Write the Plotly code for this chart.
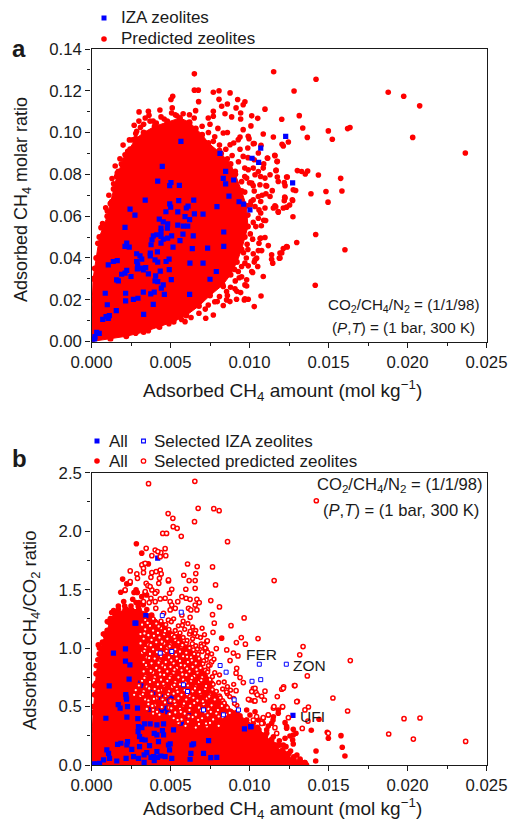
import plotly.graph_objects as go

W, H = 510, 821

# ---------- panel a: adsorbed CH4 amount (mol/kg), CH4 molar ratio ----------
a_pred_core = [(0,0),(0,.01),(.00005,.02),(.0001,.03),(.0003,.04),(.0005,.05),(.001,.06),(.0012,.066),(.0014,.073),(.0016,.079),
(.0019,.085),(.0023,.091),(.0028,.097),(.0033,.1),(.004,.103),(.0048,.105),(.0056,.107),(.0062,.105),(.0066,.102),(.007,.099),
(.0074,.095),(.0082,.09),(.0088,.085),(.0091,.08),(.0095,.072),(.0098,.065),(.0099,.055),(.0097,.05),(.0095,.044),(.0092,.038),
(.0088,.032),(.0083,.027),(.0075,.022),(.0068,.017),(.006,.0125),(.0052,.0095),(.0043,.007),(.0033,.0045),(.0022,.0025),(.0012,.0012),(0,0)]

a_pred_far = [(.01153,.1291),(.01421,.1255),(.01282,.1199),(.01878,.1193),(.01976,.1174),(.02077,.1128),(.01098,.1112),(.01014,.108),
(.01052,.1068),(.01204,.1064),(.01315,.1081),(.01009,.1032),(.01337,.1022),(.01499,.1008),(.01621,.1019),(.01636,.1024),(.01524,.0968),
(.02033,.0977),(.02366,.0902),(.01087,.0993),(.01151,.0979),(.01366,.0977),(.01246,.0955),(.01206,.0944),(.01214,.0936),(.0103,.0948),
(.01073,.0939),(.0116,.0891),(.01174,.0861),(.01115,.0877),(.01303,.0818),(.0133,.0814),(.01353,.0802),(.01368,.0816),(.01436,.0797),
(.01577,.0781),(.01484,.0718),(.01585,.072),(.01389,.0707),(.01497,.0667),(.01275,.0597),(.01419,.0512),(.01299,.0474),(.01604,.0439),
(.01273,.0675),(.01277,.0726),(.01292,.0723),(.01223,.0691),(.01239,.0787),(.0122,.0761),(.01225,.0746),(.01182,.0766),(.01168,.0819),
(.01144,.0722),(.01109,.0744),(.01254,.0653),(.01235,.0643),(.01214,.0639),(.01182,.0619),(.01151,.0639),(.01166,.0645),(.01102,.0579),
(.01075,.0554),(.01098,.0498),(.01067,.0493),(.01119,.0459),(.01239,.0452),(.01214,.0445),(.01416,.0269),(.01087,.0311),(.01073,.0218),
(.0103,.0167),(.0114,.0415),(.01147,.0375),(.01193,.04),(.01204,.0424),(.0102,.033),(.01052,.0359),(.01035,.0391)]

a_pred_top = [(.00651,.1281),(.00651,.1203),(.00676,.1203),(.00771,.1193),(.00807,.12),(.00877,.119),(.00514,.1174),(.00503,.1158),
(.00678,.1148),(.00807,.1159),(.00925,.1158),(.00971,.1147),(.0096,.1133),(.00824,.1126),(.0086,.1137),(.00915,.1118),(.00301,.1099),
(.0036,.1102),(.00433,.1108),(.00364,.1083),(.00511,.1118),(.00507,.1094),(.00771,.1102),(.00845,.109),(.00944,.1094),(.00659,.1105),
(.00739,.107),(.00771,.1078),(.00887,.1075),(.00944,.1065),(.00286,.1006),(.00212,.0894),(.00244,.0921),(.00163,.0806),(.00128,.067),
(.00771,.0958),(.00834,.0998),(.00877,.0942),(.00992,.0982),(.00929,.0966),(.0096,.1014),(.0094,.0979),(.00997,.0971),(.01024,.0947),
(.0096,.0886),(.00989,.0926),(.01056,.0902),(.01113,.0878),(.01161,.0889),(.01176,.0862),(.00992,.0822),(.01024,.083),(.01056,.0814),
(.01087,.083),(.01168,.0819),(.0113,.0798),(.01098,.0782),(.01176,.0787),(.01235,.0787),(.00982,.0782),(.01035,.0798),(.01066,.075),
(.01104,.0746),(.01024,.0746),(.01014,.0758),(.0113,.0694),(.01104,.0707),(.01225,.0687),(.0122,.0674),(.01271,.0678),(.01056,.0694),
(.01024,.0678),(.01071,.067),(.01035,.0646),(.01098,.0639),(.01071,.0615),(.01056,.059),(.01161,.065),(.01182,.0622),(.01024,.057),
(.00971,.0543),(.0096,.0526),(.01071,.0495),(.01235,.0455),(.01193,.0423),(.01189,.0399),(.0114,.0394),(.01077,.0435),(.01056,.0435),
(.01024,.042),(.01045,.0399),(.00992,.0362),(.00971,.0375),(.0095,.0359),(.00929,.0335),(.01014,.0335),(.00982,.0295),(.00982,.0266),
(.00908,.0252),(.00944,.0234),(.00971,.0204),(.00834,.0263),(.00855,.0239),(.00992,.0202),(.00918,.0202),(.00967,.0199),(.00855,.0199),
(.00876,.0191),(.00834,.0172),(.00796,.0191),(.00739,.0175),(.00771,.0127),(.00723,.0111),(.00592,.0095),(.00971,.0271),(.00935,.0305),
(.00905,.0345),(.00962,.0425),(.00985,.0465),(.01005,.0515),(.0099,.0605),(.01005,.0655),(.0097,.0715),(.0095,.0765),(.0091,.0815),
(.0086,.0875),(.0081,.0915),(.0074,.0935),(.0069,.0985),(.0062,.1045),(.0054,.108),(.0046,.1065),(.0039,.1055),(.0031,.1025),(.0026,.0965),
(.0021,.087),(.0017,.0815),(.0014,.0755),(.001,.0625),(.0007,.0565)]

a_pred_rim = [(.0028,.0995),(.0033,.104),(.0037,.1055),(.0041,.1045),(.0044,.1075),(.0048,.1055),(.0053,.1085),(.0058,.109),(.0062,.1085),(.0065,.107),
(.007,.103),(.0074,.1),(.0078,.098),(.0081,.094),(.0085,.092),(.0089,.089),(.0093,.086),(.0097,.083),(.0075,.104),(.008,.102),(.0086,.1),(.009,.095),
(.0094,.092),(.0099,.088),(.0103,.087),(.0107,.079),(.0109,.085),(.0097,.079),(.01,.076),(.0103,.072),(.0108,.07),(.0101,.067),(.0106,.063),(.0109,.058),
(.0104,.055),(.0102,.049),(.0106,.047),(.0099,.044),(.0103,.038),(.0098,.04),(.0095,.031),(.0091,.029),(.0088,.026),(.0092,.024),(.0086,.022),(.0081,.0215),
(.0078,.019),(.0072,.0155),(.0068,.0135),(.0063,.0115),(.0057,.0105),(.0049,.0085),(.0042,.0075),(.0036,.0052),(.0028,.004),(.0002,.035),(.0004,.047),
(.0006,.0545),(.0009,.064),(.0011,.07),(.0013,.078),(.0015,.084),(.0018,.0875),(.002,.094),(.0024,.0965),(.0027,.1035),(.003,.1055),(.0034,.107)]

a_iza = [(.00566,.0958),(.00813,.09),(.00448,.0838),(.00419,.0768),(.00503,.0761),(.00495,.0746),(.00556,.0747),(.00849,.0814),(.00834,.0781),
(.00849,.0754),(.009,.0773),(.0087,.0696),(.0034,.0677),(.00552,.0674),(.00647,.0677),(.00495,.0659),(.00501,.0643),(.006,.0639),(.00611,.0648),
(.00794,.0646),(.00934,.0669),(.00963,.0658),(.01003,.063),(.00244,.0634),(.01229,.0982),(.01071,.0926),(.01016,.0877),(.01058,.0857),(.01273,.0759),
(.00275,.0605),(.00471,.0621),(.00546,.062),(.00651,.0611),(.00706,.061),(.00592,.0598),(.00621,.0583),(.00429,.0586),(.00454,.0573),(.00482,.0563),
(.0048,.0543),(.0044,.0543),(.00546,.0557),(.00581,.0552),(.00609,.0552),(.00212,.0546),(.00837,.0524),(.00579,.0514),(.00644,.0506),(.0044,.0526),
(.00413,.0511),(.00391,.0506),(.00383,.0487),(.00377,.0463),(.0044,.0503),(.00482,.0495),(.00507,.0506),(.00454,.049),(.0044,.0471),(.0056,.0483),
(.00516,.0452),(.00223,.0471),(.00212,.0455),(.00239,.0452),(.00638,.0445),(.00735,.0447),(.00837,.0455),(.00417,.0429),(.00372,.0423),(.00372,.041),
(.00286,.042),(.00307,.041),(.00318,.0394),(.00286,.0383),(.00402,.0391),(.00419,.038),(.00491,.0394),(.00472,.0383),(.00623,.0375),(.00706,.0375),
(.00163,.0387),(.00138,.0383),(.00106,.0367),(.00292,.0367),(.0029,.0348),(.00318,.0351),(.00343,.0354),(.00328,.0343),(.0036,.0324),(.00406,.0314),
(.00435,.0337),(.00492,.0344),(.0079,.0335),(.00223,.034),(.00212,.0327),(.00191,.0322),(.0025,.0311),(.00159,.0295),(.0017,.029),(.00402,.029),
(.00419,.0287),(.00505,.0296),(.0075,.0298),(.00454,.0271),(.00442,.0255),(.00328,.0236),(.00397,.0236),(.00375,.0228),(.00461,.0226),(.00621,.0226),
(.00087,.0231),(.00216,.0231),(.00216,.0194),(.00265,.0202),(.00294,.0207),(.001,.0176),(.00391,.0178),(.00157,.0148),(.0033,.013),(.00113,.0124),
(.00092,.0119),(.00071,.0106),(.00106,.0111),(.00033,.0044),(.00049,.0039),(.00022,.0023),(.00005,.0012),(.0001,.0005),(.0002,.001)]

# ---------- panel b: adsorbed CH4 amount (mol/kg), CH4/CO2 ratio ----------
b_pred_core = [(0,0),(0,.15),(.00005,.3),(.0001,.45),(.0002,.6),(.0003,.78),(.0005,.95),(.0007,1.05),(.001,1.15),(.0012,1.25),(.0015,1.3),
(.0022,1.33),(.003,1.33),(.0038,1.28),(.0045,1.2),(.0055,1.1),(.0062,1.0),(.0068,.9),(.0072,.8),(.0076,.7),(.0078,.6),(.0085,.5),(.0092,.45),
(.0098,.38),(.0105,.32),(.011,.25),(.0116,.17),(.0122,.1),(.0128,.05),(.0135,.02),(.0136,0),(0,0)]

b_pred_all = [(.00284,1.892),(.00318,1.812),(.0036,1.72),(.00332,1.72),(.00197,1.59),(.00223,1.549),(.00244,1.555),(.00185,1.478),(.00212,1.492),
(.00282,1.498),(.00269,1.475),(.0029,1.475),(.00204,1.398),(.00261,1.418),(.00282,1.389),(.00339,1.47),(.00349,1.455),(.00318,1.44),(.0017,1.333),
(.00128,1.304),(.00149,1.284),(.00212,1.327),(.00254,1.327),(.00296,1.355),(.00328,1.37),(.00043,1.027),(.00075,1.121),(.001,1.227),(.0144,.391),
(.01492,.28),(.01499,.229),(.01579,.251),(.01587,.152),(.01604,.077),(.01421,.12),(.01419,.034),(.013,.086),(.01242,.077),(.01193,.066),(.01204,.114),
(.01214,.171),(.01231,.157),(.01391,.297),(.01277,.18),(.01273,.214),(.01277,.257),(.01294,.271),(.01256,.248),(.01225,.229),(.01189,.208),(.01277,.306),
(.01235,.328),(.01225,.362),(.01235,.314),(.01182,.442),(.01182,.471),(.01151,.413),(.01119,.428),(.01087,.4),(.0114,.357),(.01119,.334),(.01151,.242),
(.01109,.271),(.01161,.143),(.0113,.086),(.01087,.043),(.01077,.186),(.01045,.157),(.00824,1.085),(.0063,1.127),(.00729,1.055),(.01149,.385),(.01225,.086),
(.01087,.357),(.01056,.385),(.01024,.357),(.00982,.385),(.01109,.3),(.00982,.471),(.01003,.428),(.01035,.456),(.0132,.04),(.0128,.03),(.0126,.12),(.0122,.03),
(.0116,.04),(.0119,.17),(.0114,.2),(.0111,.13),(.0107,.26),(.0103,.3),(.0098,.34),(.0094,.42),(.0088,.46),(.0084,.52),(.008,.58),(.0004,.9),(.0003,.7),
(.0006,1.0),(.0009,1.1),(.0013,1.2),(.0018,1.29),(.0026,1.31),(.0034,1.29)]

b_pred_rim = [(.0001,.5),(.0002,.68),(.0003,.85),(.0005,1.0),(.0008,1.12),(.0011,1.22),(.0014,1.32),(.0017,1.36),(.0021,1.36),(.0025,1.36),(.003,1.39),(.0035,1.33),
(.0086,.38),(.009,.4),(.0095,.36),(.0101,.33),(.0106,.3),(.011,.26),(.0114,.22),(.0118,.17),(.0121,.13),(.0125,.1),(.0128,.07),(.0132,.05),(.0135,.02),(.0092,.33),(.0098,.26)]

b_iza = [(.00139,.957),(.00215,.994),(.00215,.889),(.00243,.857),(.00238,.734),(.00112,.677),(.00312,.7),(.00308,.683),(.00217,.603),(.00219,.58),(.00222,.563),
(.00169,.517),(.00181,.486),(.00228,.5),(.00291,.486),(.00224,.409),(.00293,.397),(.00091,.4),(.00388,.62),(.00441,.58),(.00504,.577),(.00492,.546),(.00371,.477),
(.00392,.486),(.00441,.466),(.0047,.486),(.00483,.457),(.00335,.351),(.00297,.329),(.00319,.32),(.00371,.351),(.00414,.343),(.00456,.351),(.00519,.3),(.00568,.357),
(.00614,.42),(.00449,.294),(.00295,.286),(.00304,.243),(.00319,.22),(.0034,.214),(.00397,.271),(.00414,.257),(.00456,.257),(.00424,.2),(.00165,.177),(.00186,.186),
(.00228,.2),(.00224,.171),(.00255,.134),(.00304,.157),(.00367,.166),(.00097,.129),(.00108,.1),(.00114,.057),(.00076,.043),(.0016,.034),(.00219,.057),(.00266,.071),
(.00297,.057),(.00333,.086),(.0035,.106),(.00333,.023),(.00414,.114),(.00392,.071),(.00376,.066),(.00397,.037),(.00418,.066),(.00439,.077),(.00466,.071),(.00494,.129),
(.00498,.18),(.00487,.171),(.00508,.057),(.00646,.18),(.00629,.1),(.00624,.049),(.00741,.209),(.00709,.1),(.00755,.063),(.00793,.066),(.00635,.171),(.00968,.309),
(.01008,.329),(.00013,.009),(.00034,.009),(.00051,.014),(.0001,.002),(.00281,1.214),(.00419,1.77),(.00344,1.278),(.00275,1.213),(.01275,.425),(.01009,.328)]

b_sel_iza = [(.01062,.862),(.01233,.862),(.01016,.716),(.01071,.73),(.00814,.851),(.00852,.794),(.00903,.557),(.0093,.471),(.00709,.471),(.00835,.429),
(.00448,1.278),(.00568,1.307),(.00435,.957),(.00508,.971),(.00582,.686),(.00608,.629)]

b_sel_sparse = [(.00361,2.406),(.00654,2.426),(.00485,2.15),(.00515,2.11),(.00675,2.195),(.00774,2.192),(.00808,2.175),(.00652,2.081),(.00517,2.038),(.00542,2.024),
(.00451,1.981),(.00475,1.981),(.00568,1.956),(.00861,1.91),(.00346,1.853),(.00403,1.839),(.00466,1.85),(.00439,1.816),(.0042,1.825),(.00382,1.79),(.0047,1.79),(.00435,1.782),
(.00608,1.719),(.00669,1.697),(.00766,1.694),(.0066,1.637),(.00584,1.623),(.00245,1.66),(.00319,1.711),(.0034,1.725),(.00329,1.682),(.00287,1.634),(.00329,1.645),(.00291,1.597),
(.00382,1.645),(.00409,1.654),(.00435,1.668),(.00441,1.634),(.0043,1.597),(.00376,1.605),(.00426,1.554),(.00346,1.554),(.00357,1.534),(.00487,1.574),(.00487,1.583),(.00618,1.577),
(.00656,1.577),(.00656,1.511),(.00785,1.54),(.01156,1.577),(.00245,1.568),(.00213,1.497),(.00382,1.497),(.00508,1.503),(.00494,1.469),(.00597,1.503),(.0034,1.483),(.00371,1.526),
(.00414,1.483),(.00403,1.469),(.00466,1.426),(.00435,1.42),(.00376,1.426),(.00329,1.397),(.00365,1.389),(.00403,1.397),(.00498,1.397),(.00508,1.368),(.00546,1.397),(.00572,1.44),
(.00599,1.426),(.00624,1.417),(.00667,1.417),(.00682,1.389),(.00656,1.368),(.00755,1.406),(.0081,1.352),(.00766,1.286),(.00966,1.258),(.0053,1.34),(.00498,1.326),(.00614,1.34),
(.00629,1.326),(.00667,1.326),(.00572,1.283),(.00624,1.263),(.00487,1.24),(.00407,1.34),(.00456,1.298),(.00777,1.213),(.00769,1.135),(.00883,1.192),(.01054,1.081),(.00948,1.09),
(.00917,1.047),(.00974,1.033),(.0079,.996),(.00733,1.062),(.00695,1.033),(.00638,1.037),(.00725,.989),(.00898,.957),(.00927,.933),(.01339,1.013),(.01318,.942),(.01638,.893),
(.01366,.762),(.01284,.679),(.01216,.668),(.01204,.648),(.01098,.631),(.01041,.619),(.01024,.654),(.01014,.628),(.01077,.588),(.01094,.556),(.0103,.548),(.01003,.556),(.01176,.585),
(.01303,.545),(.01528,.573),(.01373,.496),(.01351,.471),(.01208,.496),(.01151,.487),(.01621,.462),(.01246,.405),(.0137,.376),(.01334,.313),(.01161,.319),(.01172,.27),(.01499,.271),
(.01077,.356),(.01024,.385),(.01087,.405),(.01119,.428),(.01045,.413),(.01978,.396),(.02079,.402),(.01881,.265),(.02037,.222),(.02368,.202),(.01423,2.26),(.00877,.893),(.00919,.827),
(.00915,.785),(.0094,.748),(.00961,.705),(.01035,.656),(.01049,.6),(.00993,.562),(.01035,.548),(.00915,.636),(.01288,.679),(.01214,.656),(.01299,.542),(.01155,.499),(.0121,.499),
(.00856,.984),(.00761,.884),(.00725,.899),(.0075,.856),(.00735,.814)]

b_sel_dense = [(.0034,1.24),(.0039,1.25),(.0044,1.23),(.0052,1.25),(.0058,1.23),(.0032,1.2),(.0037,1.19),(.0041,1.21),(.0047,1.2),(.0055,1.19),(.0061,1.21),(.0064,1.18),
(.0034,1.16),(.0039,1.15),(.0044,1.17),(.0049,1.16),(.0053,1.15),(.0059,1.16),(.0066,1.15),(.007,1.17),(.0031,1.12),(.0036,1.11),(.0042,1.13),(.0046,1.12),(.0051,1.11),(.0056,1.13),(.0062,1.12),(.0067,1.1),
(.0033,1.08),(.0038,1.07),(.0043,1.09),(.0048,1.08),(.0053,1.07),(.0058,1.09),(.0064,1.08),(.0069,1.09),(.0031,1.04),(.0036,1.03),(.0041,1.05),(.0046,1.04),(.005,1.03),(.0055,1.05),(.006,1.04),(.0066,1.02),(.0071,1.03),
(.0034,1.0),(.0039,.99),(.0044,1.01),(.0048,1.0),(.0053,.99),(.0057,1.01),(.0062,1.0),(.0067,.99),(.0072,1.0),(.0032,.96),(.0037,.95),(.0042,.97),(.0046,.96),(.0051,.95),(.0056,.97),(.006,.96),(.0065,.95),(.007,.97),(.0076,.95),
(.0035,.92),(.004,.91),(.0044,.93),(.0049,.92),(.0054,.91),(.0058,.93),(.0063,.92),(.0068,.91),(.0073,.93),(.0033,.88),(.0038,.87),(.0043,.89),(.0047,.88),(.0052,.87),(.0056,.89),(.0061,.88),(.0066,.87),(.0071,.89),
(.0035,.84),(.0041,.83),(.0045,.85),(.005,.84),(.0054,.83),(.0059,.85),(.0064,.84),(.0069,.83),(.0074,.85),(.0033,.8),(.0039,.79),(.0043,.81),(.0048,.8),(.0052,.79),(.0057,.81),(.0062,.8),(.0067,.79),(.0072,.81),(.0078,.79),
(.0034,.76),(.004,.75),(.0046,.77),(.005,.76),(.0055,.75),(.006,.77),(.0065,.76),(.007,.75),(.0081,.77),(.0032,.72),(.0037,.71),(.0044,.73),(.0048,.72),(.0053,.71),(.0058,.73),(.0063,.72),(.0068,.71),(.0075,.73),(.0084,.71),
(.003,.68),(.0035,.67),(.0042,.69),(.0046,.68),(.0051,.67),(.0056,.69),(.0061,.68),(.0066,.67),(.0077,.69),(.0086,.67),(.009,.69),(.0028,.64),(.0033,.63),(.004,.65),(.0044,.64),(.0049,.63),(.0054,.65),(.0059,.64),(.0064,.63),(.0072,.65),(.0079,.63),(.0083,.65),(.0088,.64),
(.0027,.6),(.0031,.59),(.0038,.61),(.0043,.6),(.0047,.59),(.0052,.61),(.0057,.6),(.0062,.59),(.0069,.61),(.0075,.6),(.0081,.59),(.0086,.61),(.0034,.56),(.0036,.55),(.0041,.57),(.0045,.56),(.005,.55),(.0055,.57),(.006,.56),(.0067,.55),(.0073,.57),(.0078,.56),(.0083,.55),(.009,.57),
(.0036,.52),(.004,.51),(.0046,.53),(.0053,.52),(.0058,.51),(.0065,.53),(.0071,.52),(.0076,.51),(.0084,.53),(.0092,.51),(.0035,.48),(.0039,.47),(.0049,.49),(.0056,.48),(.0062,.47),(.0068,.49),(.0074,.48),(.008,.47),(.0086,.49),
(.0039,.44),(.0043,.43),(.0053,.45),(.0059,.44),(.0066,.43),(.0072,.45),(.0079,.44),(.0085,.43),(.0052,.4),(.0057,.39),(.0064,.41),(.007,.4),(.0077,.39),(.0083,.41),(.0055,.36),(.0061,.37),(.0068,.35),(.0075,.36),(.0066,.32),(.0073,.33)]

b_sel_between = [(.00355,1.215),(.00425,1.185),(.00505,1.225),(.00575,1.195),(.00625,1.145),(.00465,1.145),(.00395,1.105),(.00335,1.125),(.00525,1.095),(.00605,1.065),(.00655,1.125),(.00715,1.115),
(.00445,1.055),(.00375,1.025),(.00335,.975),(.00495,1.015),(.00575,1.025),(.00645,.985),(.00695,1.015),(.00415,.965),(.00475,.975),(.00535,.945),(.00605,.925),(.00675,.945),(.00735,.965),(.00365,.915),
(.00425,.875),(.00505,.895),(.00565,.855),(.00635,.895),(.00705,.865),(.00775,.905),(.00345,.855),(.00465,.835),(.00525,.815),(.00605,.825),(.00665,.815),(.00735,.795),(.00375,.805),(.00435,.775),
(.00495,.745),(.00575,.775),(.00635,.745),(.00695,.725),(.00765,.755),(.00335,.745),(.00395,.725),(.00455,.695),(.00525,.685),(.00595,.705),(.00655,.655),(.00725,.675),(.00805,.705),(.00365,.655),
(.00425,.635),(.00485,.605),(.00545,.625),(.00605,.605),(.00685,.625),(.00765,.645),(.00855,.625),(.00325,.605),(.00395,.565),(.00465,.535),(.00525,.545),(.00585,.525),(.00645,.575),(.00705,.545),
(.00745,.585),(.00815,.575),(.00875,.585),(.00385,.505),(.00445,.495),(.00505,.485),(.00565,.455),(.00625,.505),(.00695,.465),(.00755,.455),(.00825,.505),(.00905,.525),(.00415,.455),(.00495,.435),
(.00615,.415),(.00675,.385),(.00735,.425),(.00805,.415),(.00545,.385),(.00875,.445),(.00595,.335),(.00725,.355),(.00805,.335)]

x_axis_label = "Adsorbed CH<sub>4</sub> amount (mol kg<sup>−1</sup>)"
INK = "#1a1a1a"
RED, BLUE = "#ff0000", "#0000ff"


def xs(p):
    return [v[0] for v in p]


def ys(p):
    return [v[1] for v in p]


fig = go.Figure()

# saturated part of each cloud, outlined from the picture
fig.add_trace(go.Scatter(x=xs(a_pred_core), y=ys(a_pred_core), mode="lines+markers", fill="toself", fillcolor=RED,
                         line=dict(color=RED, width=1), marker=dict(color=RED, size=6), showlegend=False,
                         xaxis="x", yaxis="y", hoverinfo="skip"))
a_pred = a_pred_rim + a_pred_far + a_pred_top
fig.add_trace(go.Scatter(x=xs(a_pred), y=ys(a_pred), mode="markers", name="Predicted zeolites", showlegend=False,
                         marker=dict(color=RED, size=5.6), xaxis="x", yaxis="y"))
fig.add_trace(go.Scatter(x=xs(a_iza), y=ys(a_iza), mode="markers", name="IZA zeolites", showlegend=False,
                         marker=dict(color=BLUE, size=5.2, symbol="square"), xaxis="x", yaxis="y"))

fig.add_trace(go.Scatter(x=xs(b_pred_core), y=ys(b_pred_core), mode="lines+markers", fill="toself", fillcolor=RED,
                         line=dict(color=RED, width=1), marker=dict(color=RED, size=6), showlegend=False,
                         xaxis="x2", yaxis="y2", hoverinfo="skip"))
b_pred = b_pred_rim + b_pred_all
fig.add_trace(go.Scatter(x=xs(b_pred), y=ys(b_pred), mode="markers", name="All predicted", showlegend=False,
                         marker=dict(color=RED, size=5.6), xaxis="x2", yaxis="y2"))
fig.add_trace(go.Scatter(x=xs(b_iza), y=ys(b_iza), mode="markers", name="All IZA", showlegend=False,
                         marker=dict(color=BLUE, size=5.2, symbol="square"), xaxis="x2", yaxis="y2"))
fig.add_trace(go.Scatter(x=xs(b_sel_sparse), y=ys(b_sel_sparse), mode="markers", name="Selected predicted zeolites", showlegend=False,
                         marker=dict(color="white", size=4.2, line=dict(color=RED, width=1.5)),
                         xaxis="x2", yaxis="y2"))
dense = b_sel_dense + b_sel_between
fig.add_trace(go.Scatter(x=xs(dense), y=ys(dense), mode="markers", name="Selected predicted zeolites (dense part)", showlegend=False,
                         marker=dict(color="white", size=3.8, line=dict(color=RED, width=1.6)),
                         xaxis="x2", yaxis="y2"))
fig.add_trace(go.Scatter(x=xs(b_sel_iza), y=ys(b_sel_iza), mode="markers", name="Selected IZA zeolites", showlegend=False,
                         marker=dict(color="white", size=4, symbol="square", line=dict(color=BLUE, width=1)),
                         xaxis="x2", yaxis="y2"))

FONT = "Liberation Sans, Arial, sans-serif"
L, R = 91.5 / W, 486.5 / W


def ydom(top, bot):
    return [1 - bot / H, 1 - top / H]


def xaxis(domain, anchor):
    return dict(domain=domain, anchor=anchor, range=[0, .025], dtick=.005, tick0=0, tickformat=".3f",
                ticks="outside", ticklen=5, tickwidth=1.2, tickcolor=INK, showline=True, linecolor=INK, linewidth=1.4,
                mirror=True, showgrid=False, zeroline=False, automargin=False,
                tickfont=dict(size=16.8, color=INK),
                minor=dict(dtick=.0025, ticks="outside", ticklen=3, tickwidth=1, tickcolor=INK, showgrid=False))


def yaxis(domain, anchor, rng, dt, mdt, fmt):
    return dict(domain=domain, anchor=anchor, range=rng, dtick=dt, tick0=0, tickformat=fmt,
                ticks="outside", ticklen=5, tickwidth=1.2, tickcolor=INK, showline=True, linecolor=INK, linewidth=1.4,
                mirror=True, showgrid=False, zeroline=False, automargin=False,
                tickfont=dict(size=16.8, color=INK),
                minor=dict(dtick=mdt, ticks="outside", ticklen=3, tickwidth=1, tickcolor=INK, showgrid=False))


def note(x, y, text, size=16, anchor="left", **kw):
    return dict(xref="paper", yref="paper", x=x / W, y=1 - y / H, text=text, showarrow=False, xanchor=anchor, yanchor="middle",
                font=dict(size=size, color=INK), **kw)


def key_square(cx, cy, color, r=2.5, open_=False):
    return dict(type="rect", xref="paper", yref="paper", x0=(cx - r) / W, x1=(cx + r) / W, y0=1 - (cy + r) / H, y1=1 - (cy - r) / H,
                fillcolor="white" if open_ else color, line=dict(color=color, width=1.1 if open_ else 0))


def key_circle(cx, cy, color, r=2.8, open_=False):
    return dict(type="circle", xref="paper", yref="paper", x0=(cx - r) / W, x1=(cx + r) / W, y0=1 - (cy + r) / H, y1=1 - (cy - r) / H,
                fillcolor="white" if open_ else color, line=dict(color=color, width=1.3 if open_ else 0))


fig.update_layout(
    width=W, height=H, margin=dict(l=0, r=0, t=0, b=0), paper_bgcolor="white", plot_bgcolor="rgba(0,0,0,0)",
    font=dict(family=FONT, color=INK), showlegend=False,
    xaxis=xaxis([L, R], "y"),
    yaxis=yaxis(ydom(49, 341.5), "x", [0, .14], .02, .01, ".2f"),
    xaxis2=xaxis([L, R], "y2"),
    yaxis2=yaxis(ydom(472.7, 765), "x2", [0, 2.5], .5, .25, ".1f"),
    shapes=[
        key_square(104, 18, BLUE),
        key_circle(104, 39, RED),
        key_square(97, 441, BLUE),
        key_circle(97, 461, RED),
        key_square(143.5, 441, BLUE, 1.9, True),
        key_circle(143.5, 461, RED, 2.2, True),
    ],
    annotations=[
        note(10, 48, "<b>a</b>", 24),
        note(10, 458, "<b>b</b>", 24),
        note(119, 18, "IZA zeolites", 17),
        note(119, 39, "Predicted zeolites", 17),
        note(107, 441, "All", 17),
        note(107, 461, "All", 17),
        note(152, 441, "Selected IZA zeolites", 17),
        note(152, 461, "Selected predicted zeolites", 17),
        note(282, 390, x_axis_label, 19, "center"),
        note(282, 808.5, x_axis_label, 19, "center"),
        note(22, 200, "Adsorbed CH<sub>4</sub> molar ratio", 18, "center", textangle=-90),
        note(31, 630, "Adsorbed CH<sub>4</sub>/CO<sub>2</sub> ratio", 18.5, "center", textangle=-90),
        note(482, 306, "CO<sub>2</sub>/CH<sub>4</sub>/N<sub>2</sub> = (1/1/98)", 15.2, "right"),
        note(477, 328, "(<i>P</i>,<i>T</i>) = (1 bar, 300 K)", 15.2, "right"),
        note(485, 485, "CO<sub>2</sub>/CH<sub>4</sub>/N<sub>2</sub> = (1/1/98)", 16.6, "right"),
        note(481, 510, "(<i>P</i>,<i>T</i>) = (1 bar, 300 K)", 16.6, "right"),
        note(261, 654, "FER", 15.5, "center"),
        note(309, 665, "ZON", 15.5, "center"),
        note(312, 716, "UFI", 15.5, "center"),
    ],
)

fig.write_html("out.html", config=dict(displayModeBar=False),
               post_script="document.body.style.margin='0';document.body.style.overflow='hidden';")
